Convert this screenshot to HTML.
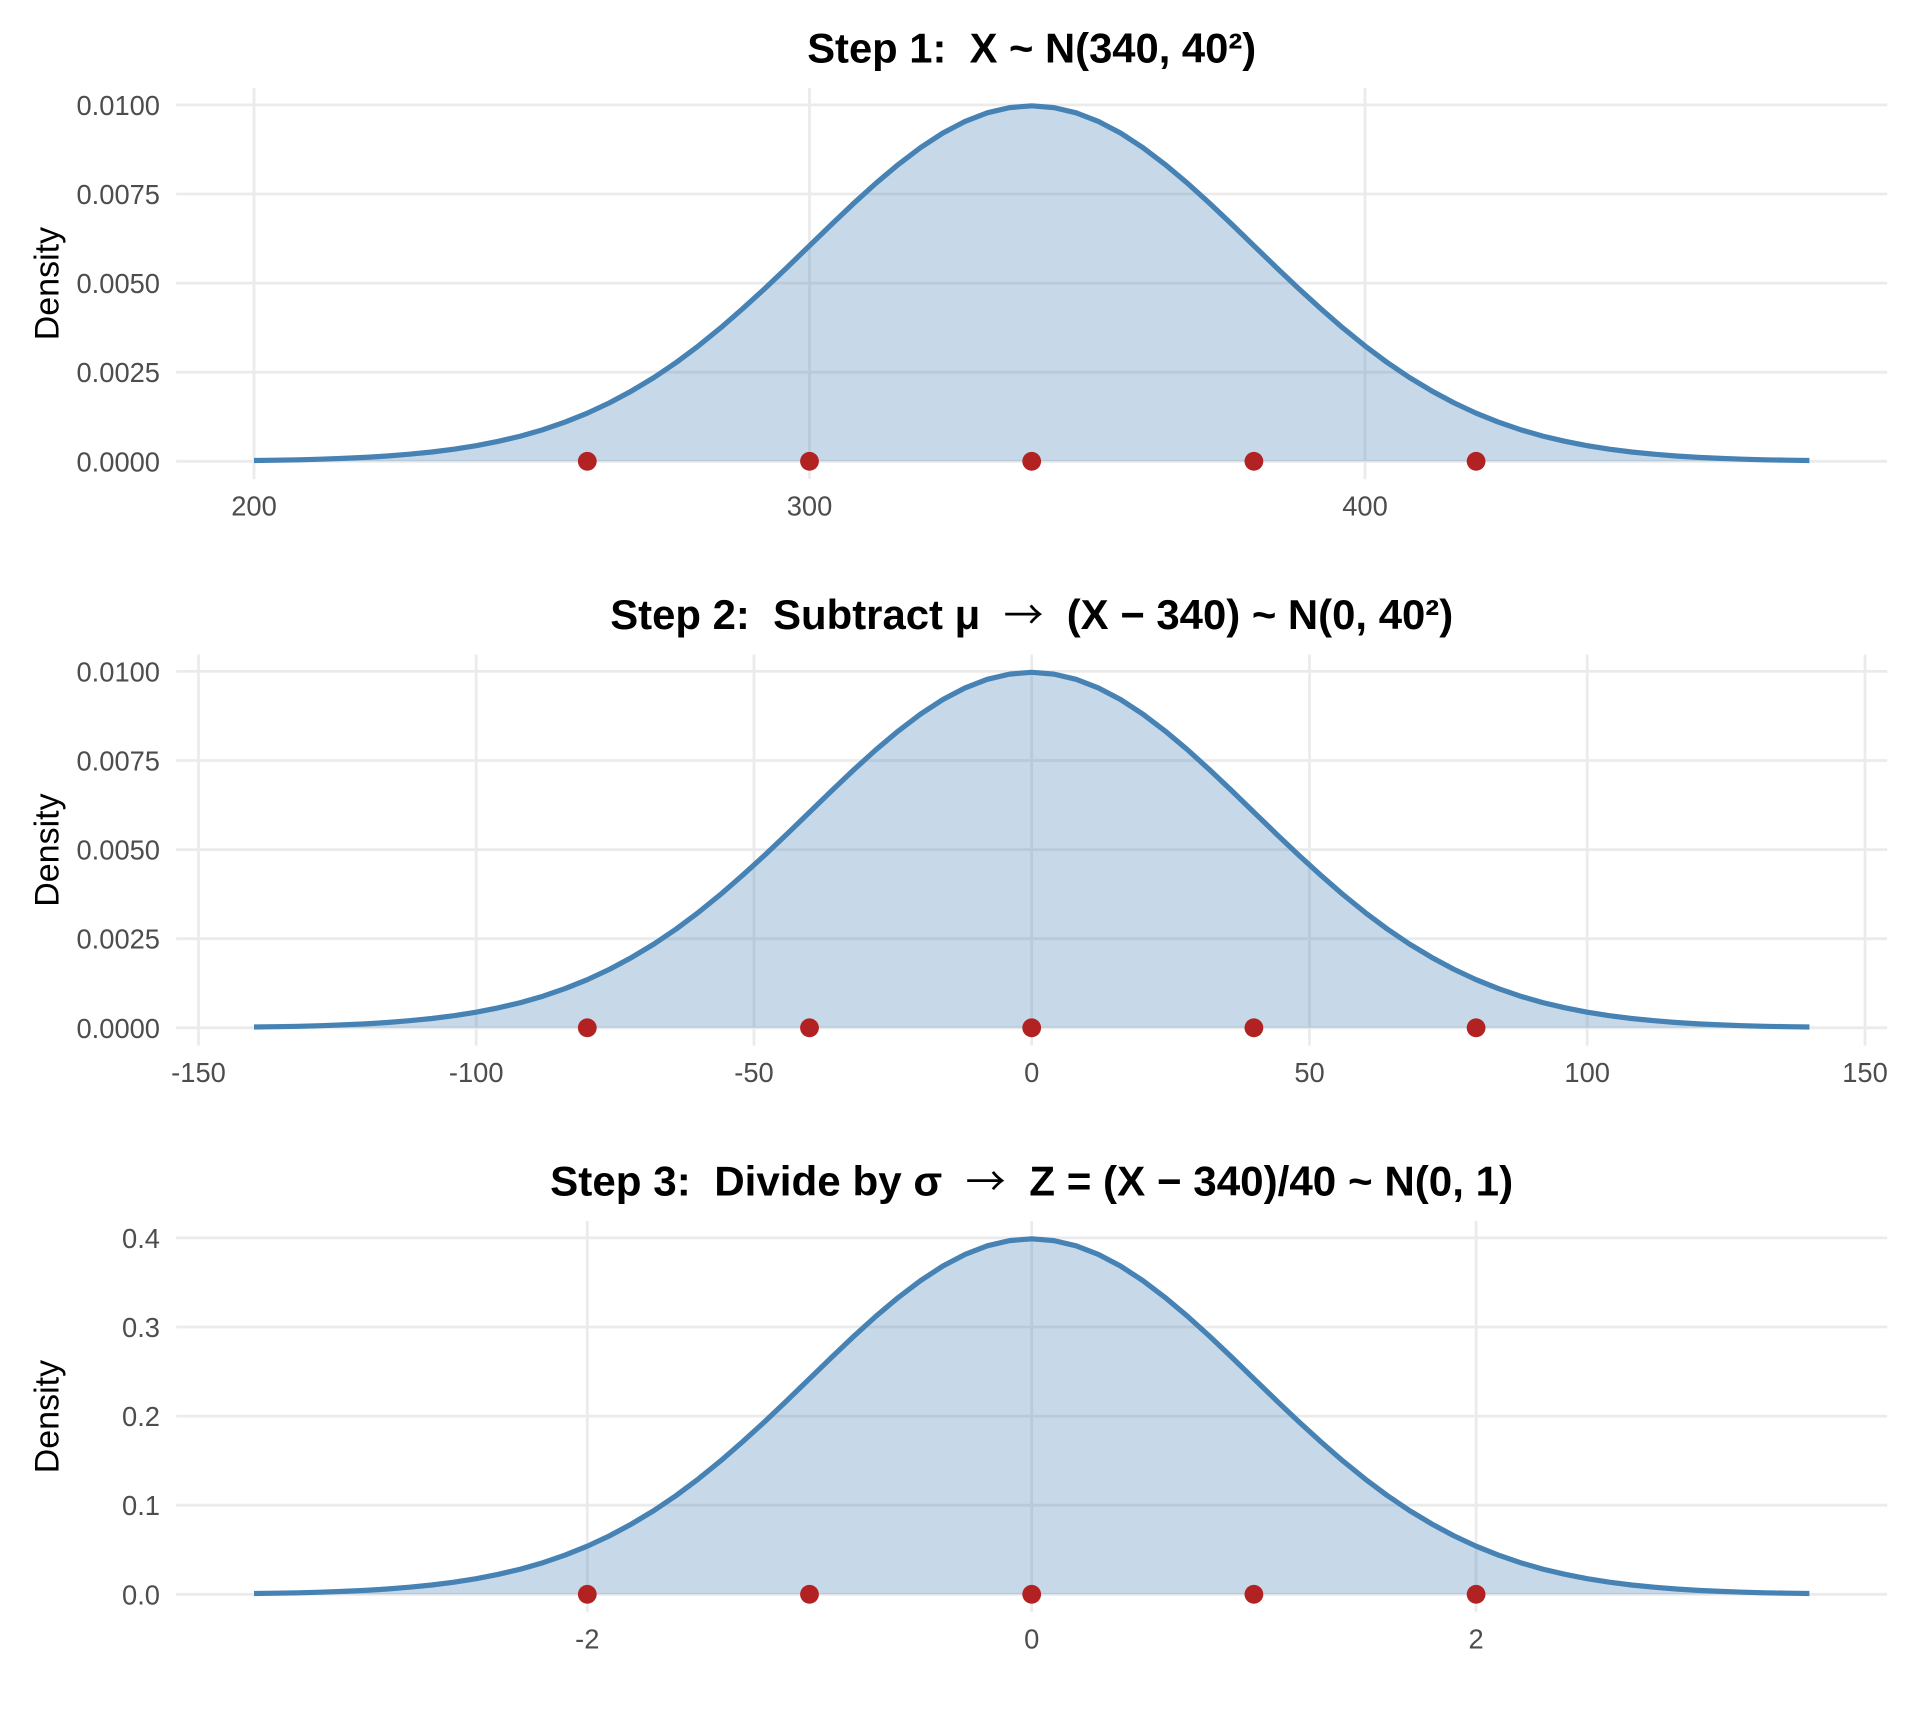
<!DOCTYPE html>
<html>
<head>
<meta charset="utf-8">
<style>
  html, body { margin:0; padding:0; background:#ffffff; }
  svg { display:block; }
  text { font-family: "Liberation Sans", Arial, sans-serif; }
  .tk { font-size:27.3px; fill:#4D4D4D; }
  .ttl { font-size:42px; font-weight:bold; fill:#000; white-space:pre; }
  .arr { font-family: "Noto Sans CJK JP", "DejaVu Sans", sans-serif; font-weight:normal; font-size:40px; }
  .ax { font-size:34px; fill:#000; }
  .g { stroke:#EBEBEB; stroke-width:2.8; fill:none; }
</style>
</head>
<body>
<svg width="1920" height="1728" viewBox="0 0 1920 1728" xmlns="http://www.w3.org/2000/svg">
  <rect x="0" y="0" width="1920" height="1728" fill="#ffffff"/>
  <defs>
    <path id="crv" d="M-777.7,-0.8 L-755.5,-1.1 L-733.3,-1.5 L-711.0,-2.1 L-688.8,-2.9 L-666.6,-3.9 L-644.4,-5.3 L-622.2,-7.1 L-599.9,-9.3 L-577.7,-12.1 L-555.5,-15.6 L-533.3,-20.0 L-511.1,-25.2 L-488.8,-31.6 L-466.6,-39.2 L-444.4,-48.1 L-422.2,-58.5 L-400.0,-70.4 L-377.7,-83.8 L-355.5,-98.8 L-333.3,-115.4 L-311.1,-133.4 L-288.9,-152.7 L-266.6,-173.0 L-244.4,-194.1 L-222.2,-215.6 L-200.0,-237.1 L-177.8,-258.1 L-155.5,-278.3 L-133.3,-296.9 L-111.1,-313.7 L-88.9,-328.2 L-66.7,-339.9 L-44.4,-348.5 L-22.2,-353.7 L0,-355.5 L22.2,-353.7 L44.4,-348.5 L66.7,-339.9 L88.9,-328.2 L111.1,-313.7 L133.3,-296.9 L155.5,-278.3 L177.8,-258.1 L200.0,-237.1 L222.2,-215.6 L244.4,-194.1 L266.6,-173.0 L288.9,-152.7 L311.1,-133.4 L333.3,-115.4 L355.5,-98.8 L377.7,-83.8 L400.0,-70.4 L422.2,-58.5 L444.4,-48.1 L466.6,-39.2 L488.8,-31.6 L511.1,-25.2 L533.3,-20.0 L555.5,-15.6 L577.7,-12.1 L599.9,-9.3 L622.2,-7.1 L644.4,-5.3 L666.6,-3.9 L688.8,-2.9 L711.0,-2.1 L733.3,-1.5 L755.5,-1.1 L777.7,-0.8"/>
    <path id="fil" d="M-777.7,0 L-777.7,-0.8 L-755.5,-1.1 L-733.3,-1.5 L-711.0,-2.1 L-688.8,-2.9 L-666.6,-3.9 L-644.4,-5.3 L-622.2,-7.1 L-599.9,-9.3 L-577.7,-12.1 L-555.5,-15.6 L-533.3,-20.0 L-511.1,-25.2 L-488.8,-31.6 L-466.6,-39.2 L-444.4,-48.1 L-422.2,-58.5 L-400.0,-70.4 L-377.7,-83.8 L-355.5,-98.8 L-333.3,-115.4 L-311.1,-133.4 L-288.9,-152.7 L-266.6,-173.0 L-244.4,-194.1 L-222.2,-215.6 L-200.0,-237.1 L-177.8,-258.1 L-155.5,-278.3 L-133.3,-296.9 L-111.1,-313.7 L-88.9,-328.2 L-66.7,-339.9 L-44.4,-348.5 L-22.2,-353.7 L0,-355.5 L22.2,-353.7 L44.4,-348.5 L66.7,-339.9 L88.9,-328.2 L111.1,-313.7 L133.3,-296.9 L155.5,-278.3 L177.8,-258.1 L200.0,-237.1 L222.2,-215.6 L244.4,-194.1 L266.6,-173.0 L288.9,-152.7 L311.1,-133.4 L333.3,-115.4 L355.5,-98.8 L377.7,-83.8 L400.0,-70.4 L422.2,-58.5 L444.4,-48.1 L466.6,-39.2 L488.8,-31.6 L511.1,-25.2 L533.3,-20.0 L555.5,-15.6 L577.7,-12.1 L599.9,-9.3 L622.2,-7.1 L644.4,-5.3 L666.6,-3.9 L688.8,-2.9 L711.0,-2.1 L733.3,-1.5 L755.5,-1.1 L777.7,-0.8 L777.7,0 Z"/>
    <g id="hgrid">
      <line class="g" x1="176.2" y1="461.3" x2="1887.2" y2="461.3"/>
      <line class="g" x1="176.2" y1="372.2" x2="1887.2" y2="372.2"/>
      <line class="g" x1="176.2" y1="283.1" x2="1887.2" y2="283.1"/>
      <line class="g" x1="176.2" y1="194.0" x2="1887.2" y2="194.0"/>
      <line class="g" x1="176.2" y1="104.9" x2="1887.2" y2="104.9"/>
    </g>
    <g id="series">
      <g transform="translate(1031.7,461.3)">
        <use href="#fil" fill="#4682B4" fill-opacity="0.3"/>
        <use href="#crv" fill="none" stroke="#4682B4" stroke-width="5.2" stroke-linejoin="round" stroke-linecap="butt"/>
        <circle cx="-444.4" cy="0" r="9.4" fill="#B22222"/>
        <circle cx="-222.2" cy="0" r="9.4" fill="#B22222"/>
        <circle cx="0" cy="0" r="9.4" fill="#B22222"/>
        <circle cx="222.2" cy="0" r="9.4" fill="#B22222"/>
        <circle cx="444.4" cy="0" r="9.4" fill="#B22222"/>
      </g>
    </g>
  </defs>

  <!-- ===== Panel 1 ===== -->
  <g>
    <text class="ttl" x="1031.7" y="62.7" text-anchor="middle" textLength="449" lengthAdjust="spacingAndGlyphs" xml:space="preserve">Step 1:  X ~ N(340, 40²)</text>
    <use href="#hgrid"/>
    <line class="g" x1="254.0" y1="88" x2="254.0" y2="479.1"/>
    <line class="g" x1="809.5" y1="88" x2="809.5" y2="479.1"/>
    <line class="g" x1="1365.0" y1="88" x2="1365.0" y2="479.1"/>
    <use href="#series"/>
    <text class="tk" x="160" y="471.3" text-anchor="end">0.0000</text>
    <text class="tk" x="160" y="382.2" text-anchor="end">0.0025</text>
    <text class="tk" x="160" y="293.1" text-anchor="end">0.0050</text>
    <text class="tk" x="160" y="204.0" text-anchor="end">0.0075</text>
    <text class="tk" x="160" y="114.9" text-anchor="end">0.0100</text>
    <text class="tk" x="254.0" y="515.3" text-anchor="middle">200</text>
    <text class="tk" x="809.5" y="515.3" text-anchor="middle">300</text>
    <text class="tk" x="1365.0" y="515.3" text-anchor="middle">400</text>
    <text class="ax" transform="translate(58.4,283.6) rotate(-90)" text-anchor="middle">Density</text>
  </g>

  <!-- ===== Panel 2 ===== -->
  <g transform="translate(0,566.5)">
    <text class="ttl" x="1031.7" y="62.7" text-anchor="middle" textLength="843" lengthAdjust="spacingAndGlyphs" xml:space="preserve">Step 2:  Subtract μ  <tspan class="arr">→</tspan>  (X − 340) ~ N(0, 40²)</text>
    <use href="#hgrid"/>
    <line class="g" x1="198.5" y1="88" x2="198.5" y2="479.1"/>
    <line class="g" x1="476.2" y1="88" x2="476.2" y2="479.1"/>
    <line class="g" x1="754.0" y1="88" x2="754.0" y2="479.1"/>
    <line class="g" x1="1031.7" y1="88" x2="1031.7" y2="479.1"/>
    <line class="g" x1="1309.5" y1="88" x2="1309.5" y2="479.1"/>
    <line class="g" x1="1587.2" y1="88" x2="1587.2" y2="479.1"/>
    <line class="g" x1="1865.0" y1="88" x2="1865.0" y2="479.1"/>
    <use href="#series"/>
    <text class="tk" x="160" y="471.3" text-anchor="end">0.0000</text>
    <text class="tk" x="160" y="382.2" text-anchor="end">0.0025</text>
    <text class="tk" x="160" y="293.1" text-anchor="end">0.0050</text>
    <text class="tk" x="160" y="204.0" text-anchor="end">0.0075</text>
    <text class="tk" x="160" y="114.9" text-anchor="end">0.0100</text>
    <text class="tk" x="198.5" y="515.3" text-anchor="middle">-150</text>
    <text class="tk" x="476.2" y="515.3" text-anchor="middle">-100</text>
    <text class="tk" x="754.0" y="515.3" text-anchor="middle">-50</text>
    <text class="tk" x="1031.7" y="515.3" text-anchor="middle">0</text>
    <text class="tk" x="1309.5" y="515.3" text-anchor="middle">50</text>
    <text class="tk" x="1587.2" y="515.3" text-anchor="middle">100</text>
    <text class="tk" x="1865.0" y="515.3" text-anchor="middle">150</text>
    <text class="ax" transform="translate(58.4,283.6) rotate(-90)" text-anchor="middle">Density</text>
  </g>

  <!-- ===== Panel 3 ===== -->
  <g transform="translate(0,1133)">
    <text class="ttl" x="1031.7" y="62.7" text-anchor="middle" textLength="963" lengthAdjust="spacingAndGlyphs" xml:space="preserve">Step 3:  Divide by σ  <tspan class="arr">→</tspan>  Z = (X − 340)/40 ~ N(0, 1)</text>
    <use href="#hgrid"/>
    <line class="g" x1="587.3" y1="88" x2="587.3" y2="479.1"/>
    <line class="g" x1="1031.7" y1="88" x2="1031.7" y2="479.1"/>
    <line class="g" x1="1476.1" y1="88" x2="1476.1" y2="479.1"/>
    <use href="#series"/>
    <text class="tk" x="160" y="471.3" text-anchor="end">0.0</text>
    <text class="tk" x="160" y="382.2" text-anchor="end">0.1</text>
    <text class="tk" x="160" y="293.1" text-anchor="end">0.2</text>
    <text class="tk" x="160" y="204.0" text-anchor="end">0.3</text>
    <text class="tk" x="160" y="114.9" text-anchor="end">0.4</text>
    <text class="tk" x="587.3" y="515.3" text-anchor="middle">-2</text>
    <text class="tk" x="1031.7" y="515.3" text-anchor="middle">0</text>
    <text class="tk" x="1476.1" y="515.3" text-anchor="middle">2</text>
    <text class="ax" transform="translate(58.4,283.6) rotate(-90)" text-anchor="middle">Density</text>
  </g>
</svg>
</body>
</html>
